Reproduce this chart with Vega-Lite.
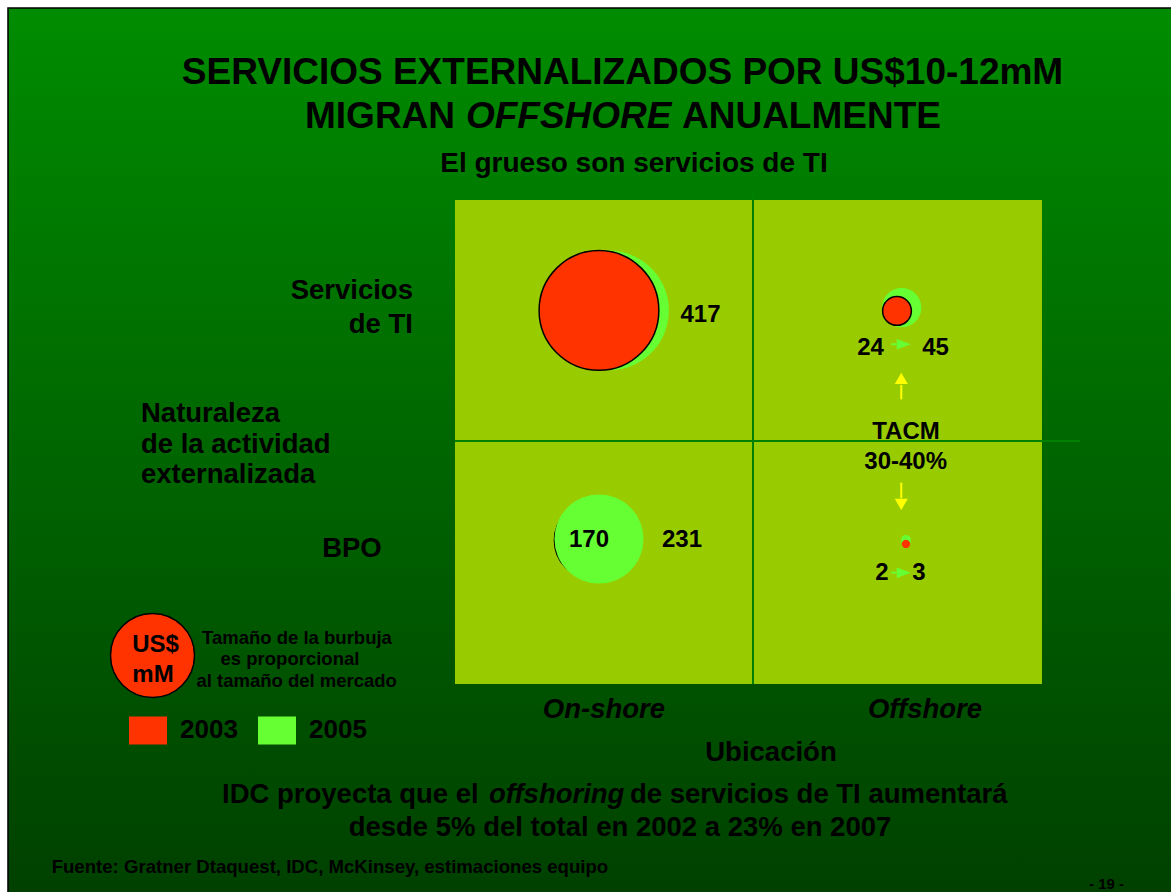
{
  "$schema": "https://vega.github.io/schema/vega-lite/v6.json",
  "width": 1171,
  "height": 892,
  "autosize": {"type": "none"},
  "padding": 0,
  "background": "#ffffff",
  "config": {
    "view": {"stroke": null},
    "text": {"font": "Liberation Sans"},
    "legend": {
      "labelFont": "Liberation Sans",
      "labelFontSize": 26,
      "labelFontWeight": "bold",
      "labelColor": "#000000",
      "labelOffset": 13,
      "columnPadding": 20,
      "symbolSize": 1444,
      "symbolType": "M-1,-0.737H1V0.737H-1Z",
      "symbolStrokeWidth": 0,
      "symbolOpacity": 1,
      "padding": 0
    }
  },
  "datasets": {
    "bubbles": [
      {"activity": "Servicios de TI", "location": "On-shore", "year": 2003, "value": 417, "x": 24.53, "y": 77.17},
      {"activity": "Servicios de TI", "location": "On-shore", "year": 2005, "value": 417, "x": 26.24, "y": 77.17},
      {"activity": "Servicios de TI", "location": "Offshore", "year": 2003, "value": 24, "x": 75.30, "y": 77.07},
      {"activity": "Servicios de TI", "location": "Offshore", "year": 2005, "value": 45, "x": 76.10, "y": 77.75},
      {"activity": "BPO", "location": "On-shore", "year": 2003, "value": 170, "x": 23.45, "y": 29.67},
      {"activity": "BPO", "location": "On-shore", "year": 2005, "value": 231, "x": 24.53, "y": 29.96},
      {"activity": "BPO", "location": "Offshore", "year": 2003, "value": 2, "x": 76.83, "y": 28.93},
      {"activity": "BPO", "location": "Offshore", "year": 2005, "value": 3, "x": 76.83, "y": 29.75}
    ]
  },
  "encoding": {
    "x": {"field": "x", "type": "quantitative", "scale": {"domain": [-77.51, 121.98], "nice": false, "zero": false}, "axis": null},
    "y": {"field": "y", "type": "quantitative", "scale": {"domain": [-42.98, 141.32], "nice": false, "zero": false}, "axis": null}
  },
  "layer": [
    {
      "data": {"values": [{"x": -76.15, "x2": 123, "y": 139.67, "y2": -44}]},
      "mark": {
        "type": "rect",
        "fill": {"gradient": "linear", "x1": 0, "y1": 0, "x2": 0, "y2": 1,
          "stops": [{"offset": 0, "color": "#008c00"}, {"offset": 1, "color": "#004000"}]},
        "stroke": "#000000",
        "strokeWidth": 1.5
      },
      "encoding": {"x2": {"field": "x2"}, "y2": {"field": "y2"}}
    },
    {
      "data": {"values": [{"x": 0, "x2": 100, "y": 0, "y2": 100}]},
      "mark": {"type": "rect", "fill": "#99cc00"},
      "encoding": {"x2": {"field": "x2"}, "y2": {"field": "y2"}}
    },
    {
      "data": {"values": [{"x": 50.77, "y": 0, "y2": 102.07}]},
      "mark": {"type": "rule", "color": "#008000", "strokeWidth": 2},
      "encoding": {"y2": {"field": "y2"}}
    },
    {
      "data": {"values": [{"x": 0, "x2": 106.47, "y": 50.21}]},
      "mark": {"type": "rule", "color": "#008000", "strokeWidth": 2},
      "encoding": {"x2": {"field": "x2"}}
    },
    {
      "data": {"name": "bubbles"},
      "transform": [{"filter": "datum.year === 2005 && !(datum.activity === 'BPO' && datum.location === 'On-shore')"}],
      "mark": {"type": "point", "shape": "circle", "filled": true, "opacity": 1, "stroke": "#000000"},
      "encoding": {
        "size": {"field": "value", "type": "quantitative", "scale": {"type": "linear", "domain": [0, 417], "range": [0, 14335]}, "legend": null},
        "color": {"field": "year", "type": "nominal", "scale": {"domain": [2003, 2005], "range": ["#ff3300", "#66ff33"]},
          "legend": {"title": null, "orient": "none", "legendX": 129, "legendY": 711, "direction": "horizontal"}},
        "strokeWidth": {"condition": {"test": "datum.year === 2003 && datum.value > 10", "value": 1.5}, "value": 0}
      }
    },
    {
      "data": {"name": "bubbles"},
      "transform": [{"filter": "datum.year === 2003"}],
      "mark": {"type": "point", "shape": "circle", "filled": true, "opacity": 1, "stroke": "#000000"},
      "encoding": {
        "size": {"field": "value", "type": "quantitative", "scale": {"type": "linear", "domain": [0, 417], "range": [0, 14335]}, "legend": null},
        "color": {"field": "year", "type": "nominal", "scale": {"domain": [2003, 2005], "range": ["#ff3300", "#66ff33"]}},
        "strokeWidth": {"condition": {"test": "datum.year === 2003 && datum.value > 10", "value": 1.5}, "value": 0}
      }
    },
    {
      "data": {"name": "bubbles"},
      "transform": [{"filter": "datum.year === 2005 && datum.activity === 'BPO' && datum.location === 'On-shore'"}],
      "mark": {"type": "point", "shape": "circle", "filled": true, "opacity": 1, "stroke": "#000000"},
      "encoding": {
        "size": {"field": "value", "type": "quantitative", "scale": {"type": "linear", "domain": [0, 417], "range": [0, 14335]}, "legend": null},
        "color": {"field": "year", "type": "nominal", "scale": {"domain": [2003, 2005], "range": ["#ff3300", "#66ff33"]}},
        "strokeWidth": {"condition": {"test": "datum.year === 2003 && datum.value > 10", "value": 1.5}, "value": 0}
      }
    },
    {
      "data": {"values": [{"label": "US$ mM", "x": -51.53, "y": 5.89}]},
      "mark": {"type": "point", "shape": "circle", "filled": true, "opacity": 1, "fill": "#ff3300", "stroke": "#000000", "strokeWidth": 1.5, "size": 7056}
    },
    {
      "data": {"values": [{"x": 74.31, "x2": 75.21, "y": 70.19}, {"x": 74.31, "x2": 75.21, "y": 23.0}]},
      "mark": {"type": "rule", "color": "#66ff33", "strokeWidth": 2},
      "encoding": {"x2": {"field": "x2"}}
    },
    {
      "data": {"values": [{"x": 76.44, "y": 70.19}, {"x": 76.44, "y": 23.0}]},
      "mark": {"type": "point", "shape": "M-1,-0.75L1,0L-1,0.75Z", "filled": true, "opacity": 1, "color": "#66ff33", "size": 196}
    },
    {
      "data": {"values": [{"x": 76.03, "y": 61.78, "y2": 58.82}, {"x": 76.03, "y": 41.59, "y2": 38.37}]},
      "mark": {"type": "rule", "color": "#ffff00", "strokeWidth": 2},
      "encoding": {"y2": {"field": "y2"}}
    },
    {
      "data": {"values": [{"x": 76.03, "y": 63.16}]},
      "mark": {"type": "point", "shape": "triangle-up", "filled": true, "opacity": 1, "color": "#ffff00", "size": 169}
    },
    {
      "data": {"values": [{"x": 76.03, "y": 37.09}]},
      "mark": {"type": "point", "shape": "triangle-down", "filled": true, "opacity": 1, "color": "#ffff00", "size": 169}
    },
    {
      "data": {"values": [{"text": "SERVICIOS EXTERNALIZADOS POR US$10-12mM", "x": 28.54, "y": 123.97}]},
      "mark": {"type": "text", "font": "Liberation Sans", "fontSize": 37, "fontWeight": "bold", "align": "center", "baseline": "alphabetic", "color": "#000000"},
      "encoding": {"text": {"field": "text"}}
    },
    {
      "data": {"values": [{"text": "MIGRAN", "x": -25.55, "y": 114.88}, {"text": "ANUALMENTE", "x": 38.67, "y": 114.88}]},
      "mark": {"type": "text", "font": "Liberation Sans", "fontSize": 37, "fontWeight": "bold", "align": "left", "baseline": "alphabetic", "color": "#000000"},
      "encoding": {"text": {"field": "text"}}
    },
    {
      "data": {"values": [{"text": "OFFSHORE", "x": 1.87, "y": 114.88}]},
      "mark": {"type": "text", "font": "Liberation Sans", "fontSize": 37, "fontWeight": "bold", "fontStyle": "italic", "align": "left", "baseline": "alphabetic", "color": "#000000"},
      "encoding": {"text": {"field": "text"}}
    },
    {
      "data": {"values": [{"text": "El grueso son servicios de TI", "x": 30.49, "y": 105.79}]},
      "mark": {"type": "text", "font": "Liberation Sans", "fontSize": 28, "fontWeight": "bold", "align": "center", "baseline": "alphabetic", "color": "#000000"},
      "encoding": {"text": {"field": "text"}}
    },
    {
      "data": {"values": [
        {"text": "BPO", "x": -17.55, "y": 26.24},
        {"text": "Ubicación", "x": 53.83, "y": -15.91},
        {"text": "desde 5% del total en 2002 a 23% en 2007", "x": 28.11, "y": -31.40}
      ]},
      "mark": {"type": "text", "font": "Liberation Sans", "fontSize": 27.5, "fontWeight": "bold", "align": "center", "baseline": "alphabetic", "color": "#000000"},
      "encoding": {"text": {"field": "text"}}
    },
    {
      "data": {"values": [
        {"text": "Servicios", "x": -7.16, "y": 79.55},
        {"text": "de TI", "x": -7.16, "y": 72.52}
      ]},
      "mark": {"type": "text", "font": "Liberation Sans", "fontSize": 27.5, "fontWeight": "bold", "align": "right", "baseline": "alphabetic", "color": "#000000"},
      "encoding": {"text": {"field": "text"}}
    },
    {
      "data": {"values": [
        {"text": "Naturaleza", "x": -53.49, "y": 54.13},
        {"text": "de la actividad", "x": -53.49, "y": 47.73},
        {"text": "externalizada", "x": -53.49, "y": 41.53},
        {"text": "IDC proyecta que el", "x": -39.69, "y": -24.59},
        {"text": "de servicios de TI aumentará", "x": 29.81, "y": -24.59}
      ]},
      "mark": {"type": "text", "font": "Liberation Sans", "fontSize": 27.5, "fontWeight": "bold", "align": "left", "baseline": "alphabetic", "color": "#000000"},
      "encoding": {"text": {"field": "text"}}
    },
    {
      "data": {"values": [
        {"text": "On-shore", "x": 25.38, "y": -7.02},
        {"text": "Offshore", "x": 80.07, "y": -7.02}
      ]},
      "mark": {"type": "text", "font": "Liberation Sans", "fontSize": 27.5, "fontWeight": "bold", "fontStyle": "italic", "align": "center", "baseline": "alphabetic", "color": "#000000"},
      "encoding": {"text": {"field": "text"}}
    },
    {
      "data": {"values": [{"text": "offshoring", "x": 5.79, "y": -24.59}]},
      "mark": {"type": "text", "font": "Liberation Sans", "fontSize": 27.5, "fontWeight": "bold", "fontStyle": "italic", "align": "left", "baseline": "alphabetic", "color": "#000000"},
      "encoding": {"text": {"field": "text"}}
    },
    {
      "data": {"values": [
        {"text": "417", "x": 41.82, "y": 74.79},
        {"text": "24", "x": 70.80, "y": 67.98},
        {"text": "45", "x": 81.87, "y": 67.98},
        {"text": "170", "x": 22.83, "y": 28.31},
        {"text": "231", "x": 38.67, "y": 28.31},
        {"text": "2", "x": 72.74, "y": 21.49},
        {"text": "3", "x": 79.05, "y": 21.49},
        {"text": "TACM", "x": 76.83, "y": 50.56},
        {"text": "30-40%", "x": 76.78, "y": 44.36},
        {"text": "US$", "x": -51.02, "y": 6.67},
        {"text": "mM", "x": -51.45, "y": 0.48}
      ]},
      "mark": {"type": "text", "font": "Liberation Sans", "fontSize": 24, "fontWeight": "bold", "align": "center", "baseline": "alphabetic", "color": "#000000"},
      "encoding": {"text": {"field": "text"}}
    },
    {
      "data": {"values": [
        {"text": "Tamaño de la burbuja", "x": -26.92, "y": 8.26},
        {"text": "es proporcional", "x": -28.11, "y": 3.93},
        {"text": "al tamaño del mercado", "x": -26.97, "y": -0.68}
      ]},
      "mark": {"type": "text", "font": "Liberation Sans", "fontSize": 18.5, "fontWeight": "bold", "align": "center", "baseline": "alphabetic", "color": "#000000"},
      "encoding": {"text": {"field": "text"}}
    },
    {
      "data": {"values": [{"text": "Fuente: Gratner Dtaquest, IDC, McKinsey, estimaciones equipo", "x": -68.71, "y": -38.99}]},
      "mark": {"type": "text", "font": "Liberation Sans", "fontSize": 18.6, "fontWeight": "bold", "align": "left", "baseline": "alphabetic", "color": "#000000"},
      "encoding": {"text": {"field": "text"}}
    },
    {
      "data": {"values": [{"text": "- 19 -", "x": 110.99, "y": -42.42}]},
      "mark": {"type": "text", "font": "Liberation Sans", "fontSize": 15, "fontWeight": "bold", "align": "center", "baseline": "alphabetic", "color": "#000000"},
      "encoding": {"text": {"field": "text"}}
    }
  ]
}
